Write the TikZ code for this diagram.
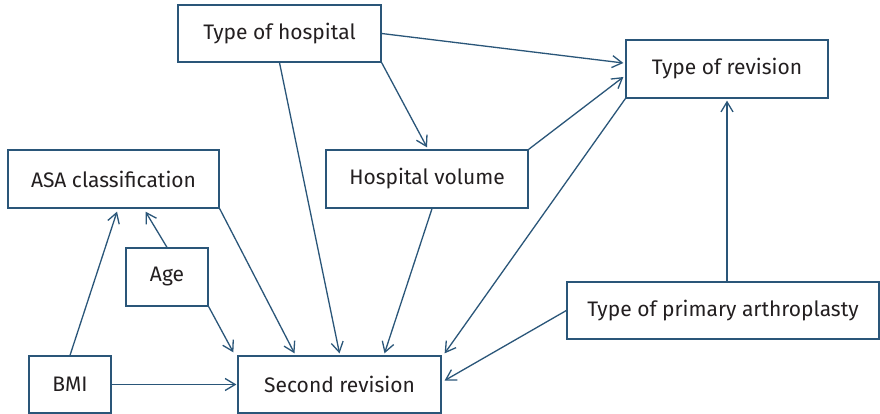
\documentclass[tikz,border=0pt]{standalone}
\usepackage{fontspec}
\setmainfont{Fira Sans}
\usetikzlibrary{arrows.meta,calc}
\definecolor{lineblue}{HTML}{2A5679}
\definecolor{txt}{HTML}{231F20}
\begin{document}
\begin{tikzpicture}[x=1pt,y=-1pt,
  box/.style={draw=lineblue,line width=1.3pt,inner sep=0pt,text=txt,
    font=\fontsize{21}{24}\selectfont,fill=white},
  conn/.style={draw=lineblue,line width=1.3pt,-{Straight Barb[length=10pt,width=12pt,line width=1.3pt]}}]
\useasboundingbox[fill=white] (0,0) rectangle (880,414);
\node[box,minimum width=203pt,minimum height=57pt] (hosp) at (279.5,33.5) {Type of hospital};
\node[box,minimum width=202pt,minimum height=58pt] (rev) at (727,69) {Type of revision};
\node[box,minimum width=211pt,minimum height=58pt] (asa) at (113.5,179) {ASA classification};
\node[box,minimum width=202pt,minimum height=58pt] (vol) at (427,179) {Hospital volume};
\node[box,minimum width=82pt,minimum height=58pt] (age) at (167,277) {Age};
\node[box,minimum width=312pt,minimum height=57pt] (prim) at (723,310.5) {Type of primary arthroplasty};
\node[box,minimum width=82pt,minimum height=57pt] (bmi) at (70,384.5) {BMI};
\node[box,minimum width=203pt,minimum height=57pt] (sec) at (339.5,384.5) {Second revision};
\draw[conn] (hosp.east) -- ($(rev.west)+(-2,-6)$);
\draw[conn] (hosp.south east) -- ($(vol.north)+(0,-2)$);
\draw[conn] (hosp.south) -- ($(sec.north)+(0,-2)$);
\draw[conn] (vol.north east) -- ($(rev.west)+(-2,8)$);
\draw[conn] ($(vol.south)+(5,0)$) -- ($(sec.north)+(45,-2)$);
\draw[conn] (rev.south west) -- ($(sec.north east)+(3,-2)$);
\draw[conn] (prim.north -| rev.south) -- ($(rev.south)+(0,2)$);
\draw[conn] (prim.west) -- ($(sec.east)+(3,-4)$);
\draw[conn] (asa.south east) -- ($(sec.north)+(-45,-2)$);
\draw[conn] (age.north) -- ($(asa.south)+(32,3)$);
\draw[conn] (bmi.north) -- ($(asa.south)+(3.5,3)$);
\draw[conn] (age.south east) -- ($(sec.north west)+(-4,-3)$);
\draw[conn] (bmi.east) -- ($(sec.west)+(-1,0)$);
\end{tikzpicture}
\end{document}
